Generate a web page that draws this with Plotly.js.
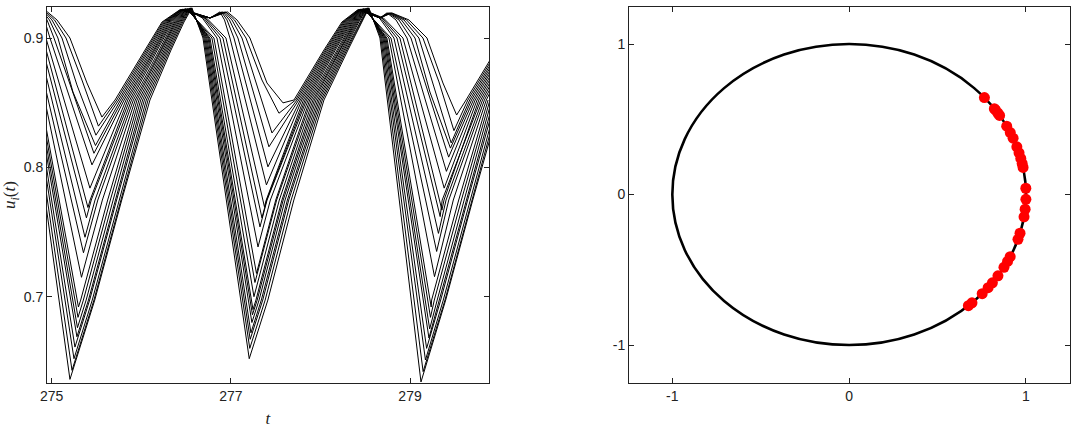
<!DOCTYPE html>
<html><head><meta charset="utf-8">
<script src="https://cdn.plot.ly/plotly-3.0.1.min.js"></script>
<style>html,body{margin:0;padding:0;background:#fff;}#chart{width:1083px;height:433px;}</style>
</head><body><div id="chart"></div>
<script>
// ---- left panel: u_i(t) curves (vertex times and values) ----
const t_k00 = [274.55,274.680,275.204,275.481,275.782,276.097,276.332,276.477,276.566,276.689,277.205,277.413,277.703,278.039,278.307,278.463,278.541,278.664,279.122,279.398,279.700,280.015];
const u_k00 = [0.9235,0.9002,0.636,0.6974,0.7748,0.8522,0.8909,0.9126,0.9235,0.9002,0.652,0.6974,0.7748,0.8522,0.8909,0.9126,0.9235,0.9002,0.634,0.6974,0.7748,0.8522];
const t_k01 = [274.54,274.691,275.227,275.472,275.773,276.076,276.317,276.464,276.559,276.700,277.211,277.383,277.673,278.021,278.293,278.451,278.535,278.675,279.146,279.390,279.691,279.994];
const u_k01 = [0.9235,0.9002,0.643,0.6974,0.7748,0.8522,0.8909,0.9126,0.9235,0.9002,0.660,0.6974,0.7748,0.8522,0.8909,0.9126,0.9235,0.9002,0.642,0.6974,0.7748,0.8522];
const t_k02 = [274.54,274.702,275.249,275.453,275.755,276.056,276.301,276.451,276.552,276.711,277.216,277.356,277.646,278.004,278.279,278.440,278.528,278.686,279.172,279.371,279.672,279.974];
const u_k02 = [0.9235,0.9002,0.652,0.6974,0.7748,0.8522,0.8909,0.9126,0.9235,0.9002,0.667,0.6974,0.7748,0.8522,0.8909,0.9126,0.9235,0.9002,0.651,0.6974,0.7748,0.8522];
const t_k03 = [274.54,274.713,275.260,275.424,275.725,276.035,276.286,276.438,276.545,276.722,277.224,277.340,277.631,277.986,278.265,278.428,278.522,278.698,279.185,279.342,279.643,279.953];
const u_k03 = [0.9235,0.9002,0.661,0.6974,0.7748,0.8522,0.8909,0.9126,0.9235,0.9002,0.672,0.6974,0.7748,0.8522,0.8909,0.9126,0.9235,0.9002,0.660,0.6974,0.7748,0.8522];
const t_k04 = [274.53,274.724,275.282,275.411,275.712,276.015,276.271,276.425,276.538,276.733,277.235,277.315,277.605,277.969,278.251,278.416,278.515,278.709,279.211,279.328,279.630,279.933];
const u_k04 = [0.923,0.9002,0.669,0.6974,0.7748,0.8522,0.8909,0.9126,0.923,0.9002,0.680,0.6974,0.7748,0.8522,0.8909,0.9126,0.923,0.9002,0.668,0.6974,0.7748,0.8522];
const t_k05 = [274.53,274.736,275.288,275.385,275.686,275.994,276.256,276.412,276.531,276.745,277.241,277.294,277.584,277.951,278.237,278.404,278.509,278.720,279.219,279.303,279.604,279.912];
const u_k05 = [0.923,0.9002,0.676,0.6974,0.7748,0.8522,0.8909,0.9126,0.923,0.9002,0.686,0.6974,0.7748,0.8522,0.8909,0.9126,0.923,0.9002,0.675,0.6974,0.7748,0.8522];
const t_k06 = [274.52,274.747,275.294,275.354,275.655,275.974,276.240,276.399,276.524,276.756,277.247,277.280,277.570,277.933,278.222,278.393,278.502,278.731,279.228,279.271,279.573,279.892];
const u_k06 = [0.923,0.9002,0.684,0.6974,0.7748,0.8522,0.8909,0.9126,0.923,0.9002,0.690,0.6974,0.7748,0.8522,0.8909,0.9126,0.923,0.9002,0.684,0.6974,0.7748,0.8522];
const t_k07 = [274.52,274.758,275.299,275.324,275.625,275.953,276.225,276.387,276.517,276.767,277.258,277.541,277.916,278.208,278.381,278.496,278.742,279.236,279.241,279.543,279.871];
const u_k07 = [0.923,0.9002,0.692,0.6974,0.7748,0.8522,0.8909,0.9126,0.923,0.9002,0.700,0.7748,0.8522,0.8909,0.9126,0.923,0.9002,0.692,0.6974,0.7748,0.8522];
const t_k08 = [274.52,274.780,275.333,275.566,275.933,276.210,276.374,276.510,276.789,277.269,277.511,277.898,278.194,278.369,278.489,278.765,279.273,279.483,279.851,280.128];
const u_k08 = [0.9228,0.9002,0.715,0.7748,0.8522,0.8909,0.9126,0.9228,0.9002,0.711,0.7748,0.8522,0.8909,0.9126,0.9228,0.9002,0.7155,0.7748,0.8522,0.8909];
const t_k09 = [274.52,274.802,275.355,275.515,275.912,276.195,276.361,276.503,276.811,277.286,277.501,277.880,278.180,278.357,278.483,278.787,279.297,279.432,279.830,280.113];
const u_k09 = [0.9228,0.9002,0.734,0.7748,0.8522,0.8909,0.9126,0.9228,0.9002,0.718,0.7748,0.8522,0.8909,0.9126,0.9228,0.9002,0.735,0.7748,0.8522,0.8909];
const t_k10 = [274.51,274.673,274.836,275.372,275.484,275.891,276.179,276.348,276.496,276.682,276.845,277.303,277.441,277.863,278.166,278.346,278.476,278.658,278.820,279.317,279.402,279.809,280.097];
const u_k10 = [0.9228,0.9157,0.9002,0.746,0.7748,0.8522,0.8909,0.9126,0.9228,0.9157,0.9002,0.7385,0.7748,0.8522,0.8909,0.9126,0.9228,0.9157,0.9002,0.749,0.7748,0.8522,0.8909];
const t_k11 = [274.51,274.689,274.869,275.388,275.442,275.871,276.164,276.335,276.488,276.698,276.878,277.325,277.404,277.845,278.152,278.334,278.470,278.673,278.854,279.336,279.359,279.789,280.082];
const u_k11 = [0.9228,0.9157,0.9002,0.761,0.7748,0.8522,0.8909,0.9126,0.9228,0.9157,0.9002,0.754,0.7748,0.8522,0.8909,0.9126,0.9228,0.9157,0.9002,0.762,0.7748,0.8522,0.8909];
const t_k12 = [274.50,274.703,274.903,275.405,275.429,275.850,276.149,276.322,276.481,276.712,276.912,277.347,277.400,277.828,278.138,278.322,278.463,278.688,278.887,279.356,279.379,279.768,280.067];
const u_k12 = [0.9224,0.9157,0.9002,0.769,0.7748,0.8522,0.8909,0.9126,0.9224,0.9157,0.9002,0.761,0.7748,0.8522,0.8909,0.9126,0.9224,0.9157,0.9002,0.767,0.7748,0.8522,0.8909];
const t_k13 = [274.50,274.719,274.936,275.427,275.830,276.134,276.309,276.474,276.728,276.945,277.375,277.395,277.810,278.124,278.310,278.457,278.703,278.921,279.381,279.748,280.052];
const u_k13 = [0.9224,0.9157,0.9002,0.784,0.8522,0.8909,0.9126,0.9224,0.9157,0.9002,0.7695,0.7748,0.8522,0.8909,0.9126,0.9224,0.9157,0.9002,0.784,0.8522,0.8909];
const t_k14 = [274.50,274.758,274.869,274.920,274.981,275.450,275.809,276.118,276.296,276.467,276.767,276.878,276.929,276.990,277.397,277.792,278.110,278.299,278.451,278.664,278.742,278.843,278.966,279.406,279.727,280.036];
const u_k14 = [0.9224,0.9157,0.9204,0.9142,0.9002,0.802,0.8522,0.8909,0.9126,0.9224,0.9157,0.9204,0.9142,0.9002,0.7865,0.8522,0.8909,0.9126,0.9224,0.9157,0.9196,0.9142,0.9002,0.797,0.8522,0.8909];
const t_k15 = [274.49,274.758,274.886,274.948,275.026,275.472,275.789,276.103,276.283,276.460,276.767,276.895,276.957,277.035,277.414,277.775,278.096,278.287,278.444,278.664,278.753,278.876,279.010,279.431,279.707,280.021];
const u_k15 = [0.9224,0.9157,0.9204,0.9142,0.9002,0.811,0.8522,0.8909,0.9126,0.9224,0.9157,0.9204,0.9142,0.9002,0.8005,0.8522,0.8909,0.9126,0.9224,0.9157,0.9196,0.9142,0.9002,0.808,0.8522,0.8909];
const t_k16 = [274.49,274.758,274.903,274.975,275.070,275.238,275.489,275.768,276.088,276.270,276.453,276.767,276.912,276.984,277.079,277.247,277.425,277.757,278.081,278.275,278.438,278.664,278.765,278.904,279.055,279.222,279.451,279.686,280.006];
const u_k16 = [0.9221,0.9157,0.9204,0.9142,0.9002,0.8584,0.817,0.8522,0.8909,0.9126,0.9221,0.9157,0.9204,0.9142,0.9002,0.8584,0.816,0.8522,0.8909,0.9126,0.9221,0.9157,0.9196,0.9142,0.9002,0.8584,0.815,0.8522,0.8909];
const t_k17 = [274.49,274.758,274.920,275.003,275.115,275.282,275.494,275.748,276.073,276.257,276.446,276.767,276.929,277.012,277.124,277.291,277.459,277.739,278.067,278.263,278.431,278.664,278.776,278.932,279.099,279.267,279.459,279.666,279.991];
const u_k17 = [0.9221,0.9157,0.9204,0.9142,0.9002,0.8639,0.825,0.8522,0.8909,0.9126,0.9221,0.9157,0.9204,0.9142,0.9002,0.8639,0.8267,0.8522,0.8909,0.9126,0.9221,0.9157,0.9196,0.9142,0.9002,0.8623,0.819,0.8522,0.8909];
const t_k18 = [274.48,274.758,274.936,275.031,275.160,275.338,275.522,275.727,276.057,276.244,276.439,276.767,276.945,277.040,277.169,277.347,277.537,277.722,278.053,278.252,278.425,278.664,278.787,278.960,279.144,279.323,279.490,279.645,279.975];
const u_k18 = [0.9221,0.9157,0.9204,0.9142,0.9002,0.8677,0.832,0.8522,0.8909,0.9126,0.9221,0.9157,0.9204,0.9142,0.9002,0.8677,0.842,0.8522,0.8909,0.9126,0.9221,0.9157,0.9196,0.9142,0.9002,0.8662,0.8285,0.8522,0.8909];
const t_k19 = [274.48,274.758,274.953,275.059,275.204,275.394,275.561,275.707,276.042,276.232,276.432,276.767,276.962,277.068,277.213,277.403,277.582,277.704,278.039,278.240,278.418,278.664,278.798,278.988,279.189,279.367,279.520,279.625,279.960];
const u_k19 = [0.9221,0.9157,0.9204,0.9142,0.9002,0.8654,0.839,0.8522,0.8909,0.9126,0.9221,0.9157,0.9204,0.9142,0.9002,0.8654,0.850,0.8522,0.8909,0.9126,0.9221,0.9157,0.9196,0.9142,0.9002,0.8654,0.8406,0.8522,0.8909];

const curveTimes  = [t_k00,t_k01,t_k02,t_k03,t_k04,t_k05,t_k06,t_k07,t_k08,t_k09,t_k10,t_k11,t_k12,t_k13,t_k14,t_k15,t_k16,t_k17,t_k18,t_k19];
const curveValues = [u_k00,u_k01,u_k02,u_k03,u_k04,u_k05,u_k06,u_k07,u_k08,u_k09,u_k10,u_k11,u_k12,u_k13,u_k14,u_k15,u_k16,u_k17,u_k18,u_k19];

const tTickVals = [275, 277, 279];
const uTickVals = [0.7, 0.8, 0.9];

// ---- right panel: phases on the unit circle (degrees) ----
const phaseDeg = [40.1, 34.8, 34.2, 32.8, 31.7, 27.0, 24.3, 22.0, 18.5, 16.1, 13.9, 11.9, 10.4,
                  2.4, -1.8, -5.6, -8.5, -14.9, -17.3, -24.4, -26.4, -28.9, -32.7, -35.9, -38.2,
                  -41.2, -46.0, -47.6];
const circleTickVals = [-1, 0, 1];
const circleTickText = ['-1', '0', '1'];

const traces = curveTimes.map((t, i) => ({
  type: 'scatter', mode: 'lines', x: t, y: curveValues[i], xaxis: 'x', yaxis: 'y',
  line: {color: '#000', width: 1.0}, hoverinfo: 'skip', showlegend: false
}));
traces.push({
  type: 'scatter', mode: 'markers', xaxis: 'x2', yaxis: 'y2', showlegend: false,
  x: phaseDeg.map(a => Math.cos(a * Math.PI / 180)),
  y: phaseDeg.map(a => Math.sin(a * Math.PI / 180)),
  marker: {color: '#ff0000', size: 11, line: {width: 0}}
});

const tickFont = {family: 'Liberation Sans, Arial, sans-serif', size: 14, color: '#222'};
const base = {
  showline: true, linecolor: '#222', linewidth: 1, mirror: 'allticks',
  ticks: 'inside', ticklen: 5, tickwidth: 1, tickcolor: '#222',
  showgrid: false, zeroline: false, tickfont: tickFont, tickmode: 'array', fixedrange: true
};
const titleFont = {family: 'Liberation Serif, DejaVu Serif, serif', size: 17, color: '#222'};

const layout = {
  width: 1083, height: 433,
  margin: {l: 0, r: 0, t: 7, b: 50},
  paper_bgcolor: '#fff', plot_bgcolor: '#fff',
  showlegend: false,
  xaxis: Object.assign({}, base, {domain: [0.0434, 0.4515], anchor: 'y', range: [274.948, 279.881],
    tickvals: tTickVals, title: {text: '<i>t</i>', font: titleFont, standoff: 9}}),
  yaxis: Object.assign({}, base, {domain: [0, 1], anchor: 'x', range: [0.6332, 0.9242],
    tickvals: uTickVals, title: {text: '<i>u<sub>i</sub></i>(<i>t</i>)', font: titleFont, standoff: 4}}),
  xaxis2: Object.assign({}, base, {domain: [0.5808, 0.9880], anchor: 'y2', range: [-1.245, 1.249],
    tickvals: circleTickVals, ticktext: circleTickText}),
  yaxis2: Object.assign({}, base, {domain: [0, 1], anchor: 'x2', range: [-1.252, 1.246],
    tickvals: circleTickVals, ticktext: circleTickText}),
  shapes: [{type: 'circle', xref: 'x2', yref: 'y2', x0: -1, x1: 1, y0: -1, y1: 1,
    line: {color: '#000', width: 2.6}, layer: 'below'}]
};

Plotly.newPlot('chart', traces, layout, {staticPlot: true, displayModeBar: false});
</script></body></html>
